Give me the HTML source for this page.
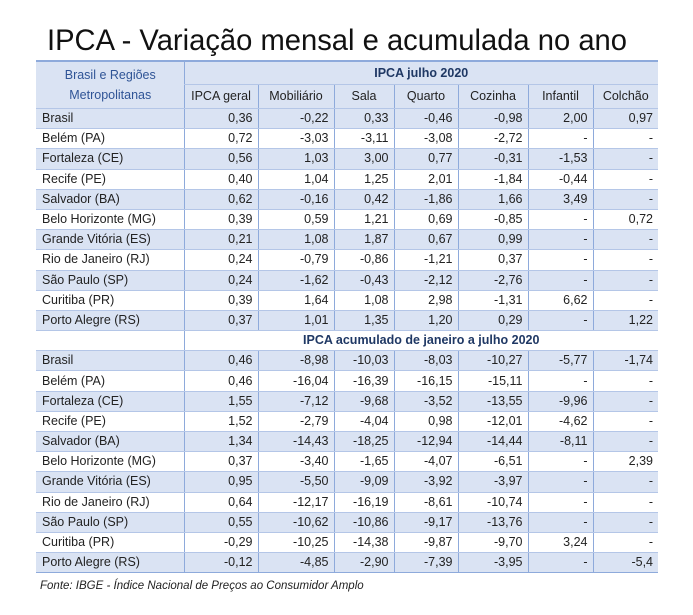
<!DOCTYPE html>
<html><head><meta charset="utf-8"><style>
body{margin:0;width:693px;height:615px;background:#fff;position:relative;overflow:hidden;font-family:"Liberation Sans",sans-serif;}
table{position:absolute;left:36px;top:60px;border-collapse:collapse;table-layout:fixed;font-size:12.5px;color:#222;}
td{padding:0 5px;height:19.2px;border-bottom:1px solid #b4c6e7;border-left:1px solid #8eaadb;text-align:right;white-space:nowrap;overflow:hidden;line-height:19px;box-sizing:content-box}
td.n{text-align:left;border-left:none;padding-left:6px}
tr.s td{background:#dae3f3}
tr.top td{border-top:2px solid #8eaadb}
.h{color:#1f3864;font-weight:bold;text-align:center}
.ch td{text-align:center;height:23px}
tr.last td{border-bottom:1px solid #8eaadb}
.src{position:absolute;left:40px;top:580px;font-size:11.5px;font-style:italic;color:#222}
</style></head><body>
<svg width="693" height="58" style="position:absolute;left:0;top:0"><text x="47" y="50" font-family="Liberation Sans, sans-serif" font-size="30" textLength="580" lengthAdjust="spacingAndGlyphs" fill="#111">IPCA - Variação mensal e acumulada no ano</text></svg>
<table>
<colgroup><col style="width:148px"><col style="width:74px"><col style="width:76px"><col style="width:60px"><col style="width:64px"><col style="width:70px"><col style="width:65px"><col style="width:65px"></colgroup>
<tr class="s top"><td class="n" rowspan="2" style="text-align:center;color:#2f5496;line-height:20px;vertical-align:middle;height:46px">Brasil e Regiões<br>Metropolitanas</td><td colspan="7" class="h" style="height:22px">IPCA julho 2020</td></tr>
<tr class="s ch"><td>IPCA geral</td><td>Mobiliário</td><td>Sala</td><td>Quarto</td><td>Cozinha</td><td>Infantil</td><td>Colchão</td></tr>
<tr class="s"><td class="n">Brasil</td><td>0,36</td><td>-0,22</td><td>0,33</td><td>-0,46</td><td>-0,98</td><td>2,00</td><td>0,97</td></tr>
<tr><td class="n">Belém (PA)</td><td>0,72</td><td>-3,03</td><td>-3,11</td><td>-3,08</td><td>-2,72</td><td>-</td><td>-</td></tr>
<tr class="s"><td class="n">Fortaleza (CE)</td><td>0,56</td><td>1,03</td><td>3,00</td><td>0,77</td><td>-0,31</td><td>-1,53</td><td>-</td></tr>
<tr><td class="n">Recife (PE)</td><td>0,40</td><td>1,04</td><td>1,25</td><td>2,01</td><td>-1,84</td><td>-0,44</td><td>-</td></tr>
<tr class="s"><td class="n">Salvador (BA)</td><td>0,62</td><td>-0,16</td><td>0,42</td><td>-1,86</td><td>1,66</td><td>3,49</td><td>-</td></tr>
<tr><td class="n">Belo Horizonte (MG)</td><td>0,39</td><td>0,59</td><td>1,21</td><td>0,69</td><td>-0,85</td><td>-</td><td>0,72</td></tr>
<tr class="s"><td class="n">Grande Vitória (ES)</td><td>0,21</td><td>1,08</td><td>1,87</td><td>0,67</td><td>0,99</td><td>-</td><td>-</td></tr>
<tr><td class="n">Rio de Janeiro (RJ)</td><td>0,24</td><td>-0,79</td><td>-0,86</td><td>-1,21</td><td>0,37</td><td>-</td><td>-</td></tr>
<tr class="s"><td class="n">São Paulo (SP)</td><td>0,24</td><td>-1,62</td><td>-0,43</td><td>-2,12</td><td>-2,76</td><td>-</td><td>-</td></tr>
<tr><td class="n">Curitiba (PR)</td><td>0,39</td><td>1,64</td><td>1,08</td><td>2,98</td><td>-1,31</td><td>6,62</td><td>-</td></tr>
<tr class="s"><td class="n">Porto Alegre (RS)</td><td>0,37</td><td>1,01</td><td>1,35</td><td>1,20</td><td>0,29</td><td>-</td><td>1,22</td></tr>
<tr><td class="n"></td><td colspan="7" class="h">IPCA acumulado de janeiro a julho 2020</td></tr>
<tr class="s"><td class="n">Brasil</td><td>0,46</td><td>-8,98</td><td>-10,03</td><td>-8,03</td><td>-10,27</td><td>-5,77</td><td>-1,74</td></tr>
<tr><td class="n">Belém (PA)</td><td>0,46</td><td>-16,04</td><td>-16,39</td><td>-16,15</td><td>-15,11</td><td>-</td><td>-</td></tr>
<tr class="s"><td class="n">Fortaleza (CE)</td><td>1,55</td><td>-7,12</td><td>-9,68</td><td>-3,52</td><td>-13,55</td><td>-9,96</td><td>-</td></tr>
<tr><td class="n">Recife (PE)</td><td>1,52</td><td>-2,79</td><td>-4,04</td><td>0,98</td><td>-12,01</td><td>-4,62</td><td>-</td></tr>
<tr class="s"><td class="n">Salvador (BA)</td><td>1,34</td><td>-14,43</td><td>-18,25</td><td>-12,94</td><td>-14,44</td><td>-8,11</td><td>-</td></tr>
<tr><td class="n">Belo Horizonte (MG)</td><td>0,37</td><td>-3,40</td><td>-1,65</td><td>-4,07</td><td>-6,51</td><td>-</td><td>2,39</td></tr>
<tr class="s"><td class="n">Grande Vitória (ES)</td><td>0,95</td><td>-5,50</td><td>-9,09</td><td>-3,92</td><td>-3,97</td><td>-</td><td>-</td></tr>
<tr><td class="n">Rio de Janeiro (RJ)</td><td>0,64</td><td>-12,17</td><td>-16,19</td><td>-8,61</td><td>-10,74</td><td>-</td><td>-</td></tr>
<tr class="s"><td class="n">São Paulo (SP)</td><td>0,55</td><td>-10,62</td><td>-10,86</td><td>-9,17</td><td>-13,76</td><td>-</td><td>-</td></tr>
<tr><td class="n">Curitiba (PR)</td><td>-0,29</td><td>-10,25</td><td>-14,38</td><td>-9,87</td><td>-9,70</td><td>3,24</td><td>-</td></tr>
<tr class="s last"><td class="n">Porto Alegre (RS)</td><td>-0,12</td><td>-4,85</td><td>-2,90</td><td>-7,39</td><td>-3,95</td><td>-</td><td>-5,4</td></tr>
</table>
<div class="src">Fonte: IBGE - Índice Nacional de Preços ao Consumidor Amplo</div>
</body></html>
